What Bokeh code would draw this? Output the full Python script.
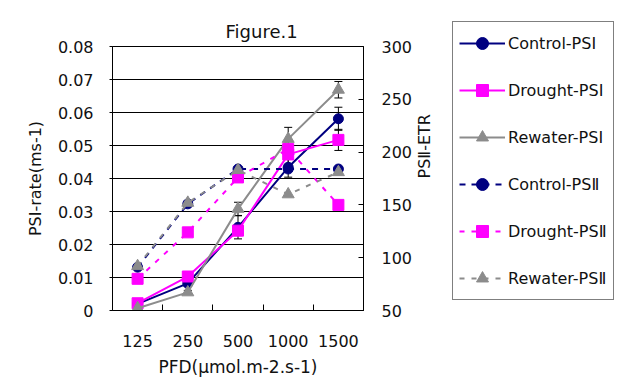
import math
from bokeh.plotting import figure
from bokeh.layouts import row
from bokeh.models import (Range1d, LinearAxis, FixedTicker, CustomJSTickFormatter,
                          NumeralTickFormatter, Legend, LegendItem, Whisker,
                          ColumnDataSource, Grid, TeeHead)
from bokeh.embed import file_html
from bokeh.resources import INLINE

# ---- data ----
pfd = ["125", "250", "500", "1000", "1500"]

control_psi = [0.0020, 0.0082, 0.0252, 0.0434, 0.0581]
drought_psi = [0.0022, 0.0103, 0.0242, 0.0473, 0.0517]
rewater_psi = [0.0007, 0.0055, 0.0308, 0.0520, 0.0669]

control_psi_err = [0.0004, 0.0008, 0.0035, 0.0030, 0.0035]
drought_psi_err = [0.0004, 0.0008, 0.0015, 0.0030, 0.0032]
rewater_psi_err = [0.0003, 0.0006, 0.0020, 0.0035, 0.0025]

control_psii = [91, 151, 184, 184, 184]
drought_psii = [80, 124, 176, 203, 150]
rewater_psii = [92, 152, 183, 160, 181]

left_ticks = [0, 0.01, 0.02, 0.03, 0.04, 0.05, 0.06, 0.07, 0.08]
right_ticks = [50, 100, 150, 200, 250, 300]

labels = ["Control-PSⅠ", "Drought-PSⅠ", "Rewater-PSⅠ",
          "Control-PSⅡ", "Drought-PSⅡ", "Rewater-PSⅡ"]

FONT = "DejaVu Sans"
NAVY = "#000080"
MAGENTA = "#FF00FF"
GRAY = "#8C8C8C"
TXT = "#111111"

n = len(pfd)
xpos = [i + 0.5 for i in range(n)]
bounds = [i for i in range(1, n)]

p = figure(width=446, height=383, output_backend="svg", toolbar_location=None,
           x_range=Range1d(0, n), y_range=Range1d(left_ticks[0], left_ticks[-1]),
           x_axis_location=None, y_axis_location=None,
           min_border_left=112, min_border_right=71,
           min_border_top=46, min_border_bottom=73)
p.extra_y_ranges = {"etr": Range1d(right_ticks[0], right_ticks[-1])}
p.background_fill_color = "white"
p.border_fill_color = "white"
p.outline_line_color = "black"
p.outline_line_width = 1
p.grid.visible = False

p.title.text = "Figure.1"
p.title.align = "left"
p.title.offset = 113
p.title.text_font = FONT
p.title.text_font_size = "18px"
p.title.text_font_style = "normal"
p.title.text_color = TXT
p.title.standoff = 10

def style_axis(ax):
    ax.major_label_text_font = FONT
    ax.major_label_text_font_size = "16px"
    ax.major_label_text_color = TXT
    ax.axis_label_text_font = FONT
    ax.axis_label_text_font_size = "16px"
    ax.axis_label_text_font_style = "normal"
    ax.axis_label_text_color = TXT
    ax.axis_line_color = "black"
    ax.major_tick_line_color = "black"
    ax.minor_tick_line_color = "black"

# left axis
yl = LinearAxis(ticker=FixedTicker(ticks=left_ticks, minor_ticks=[]),
                formatter=NumeralTickFormatter(format="0.[00]"),
                axis_label="PSⅠ-rate(ms-1)")
style_axis(yl)
yl.major_tick_out = 3
yl.major_tick_in = 0
yl.major_label_standoff = 16
yl.axis_label_standoff = 10
p.add_layout(yl, "left")

p.add_layout(Grid(dimension=1, ticker=yl.ticker, grid_line_color="black",
                  grid_line_width=1))

# right axis
yr = LinearAxis(y_range_name="etr", ticker=FixedTicker(ticks=right_ticks, minor_ticks=[]),
                axis_label="PSⅡ-ETR")
style_axis(yr)
yr.major_tick_out = 0
yr.major_tick_in = 5
yr.major_label_standoff = 18
yr.axis_label_standoff = 9
yr.axis_label_orientation = math.pi / 2
p.add_layout(yr, "right")

# bottom axis
xb = LinearAxis(ticker=FixedTicker(ticks=xpos, minor_ticks=bounds),
                formatter=CustomJSTickFormatter(args=dict(cats=pfd),
                                                code="return cats[Math.round(tick - 0.5)]"),
                axis_label="PFD(μmol.m-2.s-1)")
style_axis(xb)
xb.axis_label_text_font_size = "17px"
xb.major_tick_in = 0
xb.major_tick_out = 0
xb.minor_tick_in = 6
xb.minor_tick_out = 0
xb.major_label_standoff = 24
xb.axis_label_standoff = 7
p.add_layout(xb, "below")

styles = [
    (NAVY, "circle", 10, "solid"),
    (MAGENTA, "square", 11, "solid"),
    (GRAY, "triangle", 12, "solid"),
    (NAVY, "circle", 10, "6 6"),
    (MAGENTA, "square", 11, "5 7"),
    (GRAY, "triangle", 12, "5 7"),
]

def add_series(vals, style, range_name=None, err=None):
    color, marker, size, dash = style
    kw = {}
    if range_name:
        kw["y_range_name"] = range_name
    src = ColumnDataSource(dict(x=xpos, y=vals))
    p.line("x", "y", source=src, line_color=color, line_width=2, line_dash=dash, **kw)
    if err is not None:
        esrc = ColumnDataSource(dict(x=xpos,
                                     lo=[v - e for v, e in zip(vals, err)],
                                     hi=[v + e for v, e in zip(vals, err)]))
        w = Whisker(source=esrc, base="x", lower="lo", upper="hi", dimension="height",
                    line_color="black", line_width=1,
                    upper_head=TeeHead(size=8, line_color="black", line_width=1),
                    lower_head=TeeHead(size=8, line_color="black", line_width=1))
        p.add_layout(w)
    p.scatter("x", "y", source=src, marker=marker, size=size,
              fill_color=color, line_color=color, **kw)

add_series(control_psi, styles[0], err=control_psi_err)
add_series(drought_psi, styles[1], err=drought_psi_err)
add_series(rewater_psi, styles[2], err=rewater_psi_err)
add_series(control_psii, styles[3], range_name="etr")
add_series(drought_psii, styles[4], range_name="etr")
add_series(rewater_psii, styles[5], range_name="etr")

# legend panel (a second, axis-less figure holding only the key)
pl = figure(width=170, height=383, output_backend="svg", toolbar_location=None,
            x_range=Range1d(0, 1), y_range=Range1d(0, 1),
            x_axis_location=None, y_axis_location=None,
            min_border=0, min_border_left=0, min_border_right=0,
            min_border_top=0, min_border_bottom=0)
pl.frame_align = False
pl.outline_line_color = None
pl.grid.visible = False
pl.background_fill_color = "white"
pl.border_fill_color = "white"

nan = float("nan")
items = []
for lab, (color, marker, size, dash) in zip(labels, styles):
    key_src = ColumnDataSource(dict(x=[nan], y=[nan]))
    lr = pl.line("x", "y", source=key_src, line_color=color, line_width=2, line_dash=dash)
    sr = pl.scatter("x", "y", source=key_src, marker=marker, size=size,
                    fill_color=color, line_color=color)
    items.append(LegendItem(label=lab, renderers=[lr, sr]))

legend = Legend(items=items, location=(6, 83), orientation="vertical",
                border_line_color="black", border_line_width=1,
                background_fill_color="white", background_fill_alpha=1,
                padding=6, spacing=17, margin=0,
                glyph_width=46, glyph_height=30, label_height=30,
                label_standoff=3, label_text_font=FONT,
                label_text_font_size="16px", label_text_color=TXT)
pl.add_layout(legend, "center")

open("out.html", "w").write(file_html(row(p, pl), INLINE))
